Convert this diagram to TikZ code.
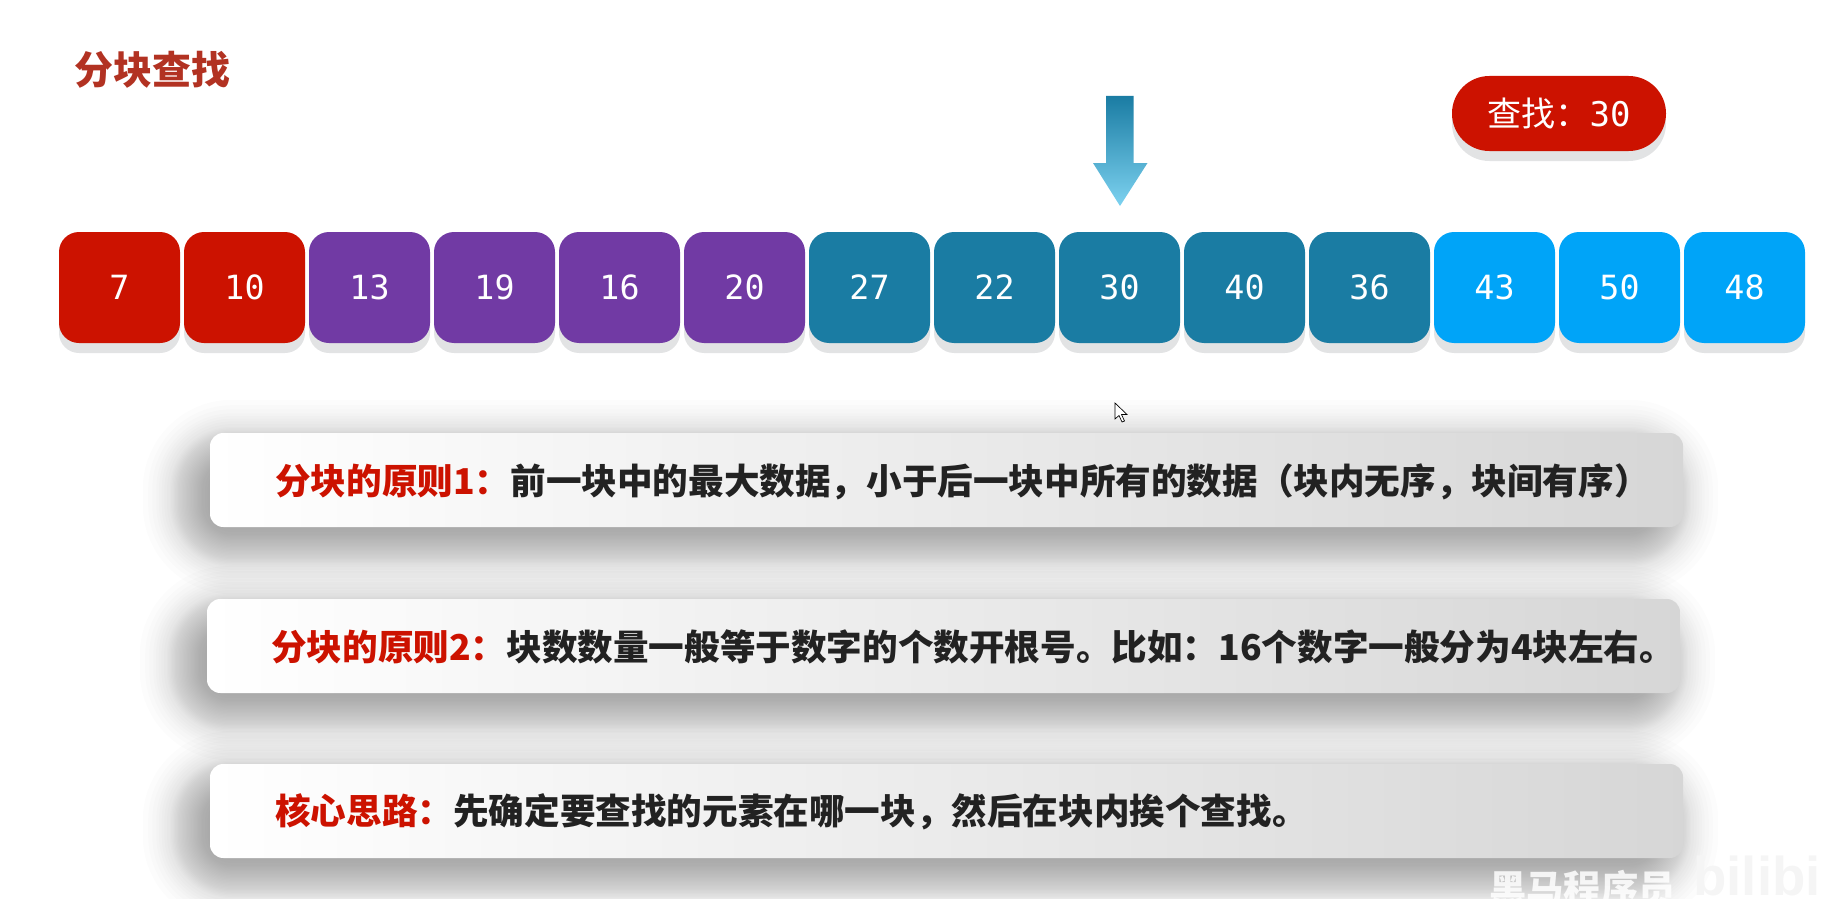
\documentclass[tikz,border=0pt]{standalone}
\usepackage{fontspec}
\setmainfont{Noto Sans CJK SC}
\newfontfamily\digitfont{DejaVu Sans Mono}
\newfontfamily\logofont{Liberation Sans}
\usepackage{tikz}
\usetikzlibrary{shadows}
\definecolor{titlered}{RGB}{178,50,34}
\definecolor{hotred}{RGB}{204,18,0}
\definecolor{blockpurple}{RGB}{113,58,164}
\definecolor{blockteal}{RGB}{26,124,163}
\definecolor{blockblue}{RGB}{0,164,248}
\definecolor{arrowsky}{RGB}{125,210,240}
\definecolor{liftgray}{RGB}{226,227,228}
\definecolor{inkblack}{RGB}{34,34,34}
\tikzset{
  numbox/.style={minimum width=90.75pt,minimum height=83.25pt,rounded corners=15pt,inner sep=0pt,text=white,
    font=\fontsize{25}{30}\digitfont,
    drop shadow={shadow xshift=0pt,shadow yshift=-7.5pt,fill=liftgray,opacity=1}},
  band/.style={minimum width=1104.75pt,minimum height=70.5pt,rounded corners=10pt,inner sep=0pt,
    left color=white,right color=black!16},
  bandtext/.style={anchor=west,inner sep=0pt,text=inkblack,font=\fontsize{26.7}{30}\bfseries}
}
\begin{document}
\begin{tikzpicture}[x=0.75pt,y=0.75pt,yscale=-1,xscale=1]
    \useasboundingbox (0,0) rectangle (1821,899);
    \clip (0,0) rectangle (1821,899);
    %Shadows of the bands
    \foreach \by/\bx in {433/210,599/207,764/210}{
      \foreach \grow in {32,28,25,22,20,18,16,14,12,11,10,9,8,7,6,5,4,3,2,1,0,-1,-2,-3,-4,-5,-6,-7,-8,-9,-10,-11,-12,-14,-16,-18,-20,-22,-25,-28}{
        \fill [black,opacity=0.0105,rounded corners={(\grow*1.35+46)*0.75pt}] (\bx-24-1.35*\grow,\by+10-1.35*\grow) rectangle (\bx+1465+1.35*\grow,\by+118+1.35*\grow);
      }
    }
    %Title
    \node [anchor=west,inner sep=0pt,text=titlered,font=\fontsize{29.2}{34}\bfseries] (title) at (74,70) {分块查找};
    %Pill
    \node [minimum width=160.5pt,minimum height=56.25pt,rounded corners=28pt,inner sep=0pt,fill=hotred,text=white,
      drop shadow={shadow xshift=0pt,shadow yshift=-7.5pt,fill=liftgray,opacity=1}] (target) at (1559,113.5) {\fontsize{25.5}{30}\selectfont 查找：\digitfont 30\hspace{1.5pt}};
    %Arrow
    \shade [top color=blockteal,bottom color=arrowsky] (1106,96) -- (1133.5,96) -- (1133.5,163) -- (1147.5,163) -- (1120,206) -- (1093,163) -- (1106,163) -- cycle;
    %Number boxes
    \foreach \val/\col [count=\i from 0] in {7/hotred,10/hotred,13/blockpurple,19/blockpurple,16/blockpurple,20/blockpurple,27/blockteal,22/blockteal,30/blockteal,40/blockteal,36/blockteal,43/blockblue,50/blockblue,48/blockblue}{
      \node [numbox,fill=\col] (n\val) at (119.5+125*\i,287.5) {\raisebox{-2.5pt}{\val}};
    }
    %Cursor
    \draw [black,fill=white,line width=0.5pt] (1115,403) -- (1115,419) -- (1119,415.5) -- (1122,422) -- (1124.5,421) -- (1121.5,414.5) -- (1127,414.5) -- cycle;
    %Bands
    \node [band] (rule1) at (946.5,480) {};
    \node [band] (rule2) at (943.5,646) {};
    \node [band] (core) at (946.5,811) {};
    % Text Node
    \node [bandtext] (rule1text) at (275,482) {\textcolor{hotred}{分块的原则1：}前一块中的最大数据，小于后一块中所有的数据（块内无序，块间有序）};
    % Text Node
    \node [bandtext] (rule2text) at (271,647) {\textcolor{hotred}{分块的原则2：}块数数量一般等于数字的个数开根号。比如：16个数字一般分为4块左右。};
    % Text Node
    \node [bandtext] (coretext) at (275,812) {\textcolor{hotred}{核心思路：}先确定要查找的元素在哪一块，然后在块内挨个查找。};
    % Watermark
    \node [anchor=west,inner sep=0pt,text=white,text opacity=0.85,font=\fontsize{28}{30}\bfseries] (mark) at (1489,888) {黑马程序员};
    \node [anchor=base west,inner sep=0pt,text=black!4,font=\fontsize{41}{44}\logofont\bfseries] (logo) at (1693,895) {bilibili};
\end{tikzpicture}
\end{document}
